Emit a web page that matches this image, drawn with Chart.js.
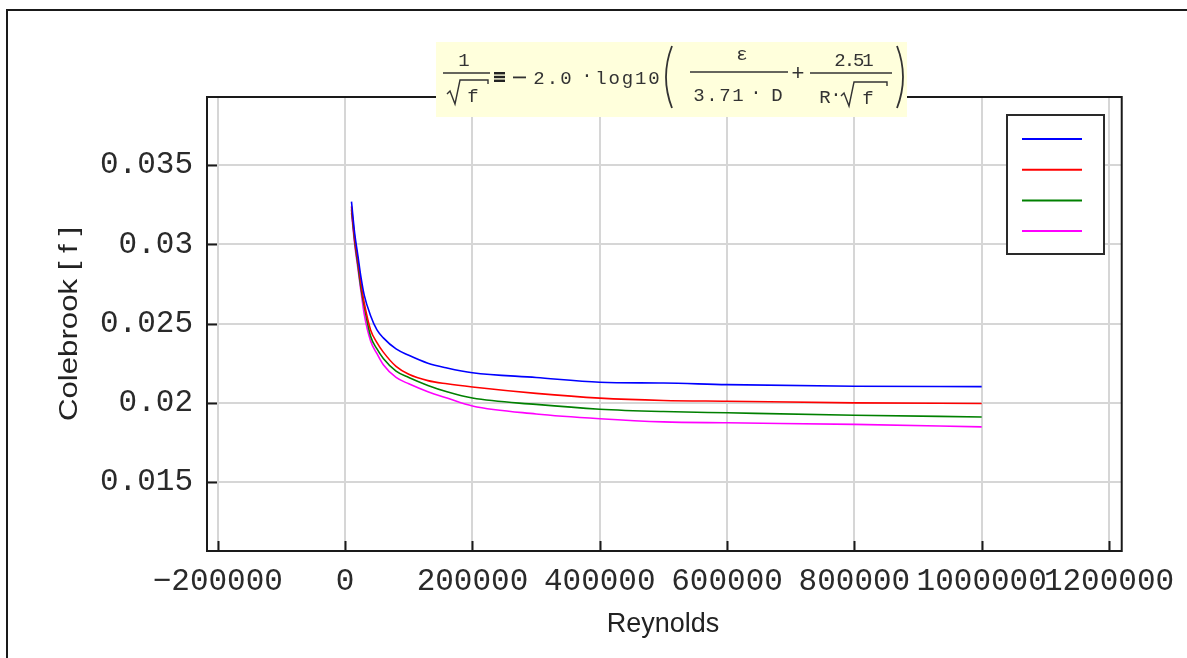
<!DOCTYPE html>
<html>
<head>
<meta charset="utf-8">
<script src="https://cdn.jsdelivr.net/npm/chart.js@4.4.1/dist/chart.umd.min.js"></script>
<style>
  html, body { margin: 0; padding: 0; background: #fff; }
  #wrap { width: 1187px; height: 658px; position: relative; }
</style>
</head>
<body>
<div id="wrap"><canvas id="chart"></canvas></div>
<script>
// ---- data ----
const reynolds = [10000, 15000, 20000, 25000, 30000, 40000, 50000, 60000, 80000, 100000, 130000, 160000, 200000, 300000, 400000, 500000, 600000, 800000, 1000000];
const fBlue    = [0.0327, 0.0307, 0.0293, 0.0279, 0.0268, 0.0255, 0.0246, 0.0241, 0.0234, 0.0230, 0.0225, 0.0222, 0.0219, 0.0216, 0.0213, 0.02125, 0.02115, 0.02105, 0.02102];
const fRed     = [0.0324, 0.0304, 0.0290, 0.0275, 0.0263, 0.0246, 0.0238, 0.0232, 0.0223, 0.0218, 0.0214, 0.0212, 0.0210, 0.0206, 0.0203, 0.02015, 0.0201, 0.0200, 0.01996];
const fGreen   = [0.0322, 0.0302, 0.0287, 0.0272, 0.0261, 0.0242, 0.0234, 0.0228, 0.0220, 0.0216, 0.0211, 0.0207, 0.0203, 0.0199, 0.0196, 0.01945, 0.01937, 0.01922, 0.01911];
const fMagenta = [0.0320, 0.0300, 0.0285, 0.0270, 0.0256, 0.0239, 0.0231, 0.0224, 0.0216, 0.0212, 0.0207, 0.0203, 0.0198, 0.0193, 0.0190, 0.0188, 0.01874, 0.01864, 0.01848];

const xTicks = [-200000, 0, 200000, 400000, 600000, 800000, 1000000, 1200000];
const xTickLabels = ["\u2212200000", "0", "200000", "400000", "600000", "800000", "1000000", "1200000"];
const yTicks = [0.015, 0.02, 0.025, 0.03, 0.035];
const yTickLabels = ["0.015", "0.02", "0.025", "0.03", "0.035"];

const seriesColors = ["#0000ff", "#ff0000", "#008000", "#ff00ff"];

function toPoints(ys) {
  return reynolds.map((r, i) => ({ x: r, y: ys[i] }));
}

// spread chars of a string evenly between x0 and x1 (mathcad style spacing)
function spread(ctx, text, x0, x1, y) {
  const n = text.length;
  const step = n > 1 ? (x1 - x0) / (n - 1) : 0;
  ctx.textAlign = "center";
  for (let i = 0; i < n; i++) ctx.fillText(text[i], x0 + i * step, y);
}

function sqrtSign(ctx, x, y0, x1) {
  ctx.beginPath();
  ctx.moveTo(x - 5, y0 + 14);
  ctx.lineTo(x - 2, y0 + 11);
  ctx.lineTo(x + 3, y0 + 24);
  ctx.lineTo(x + 8, y0);
  ctx.lineTo(x1, y0);
  ctx.lineTo(x1, y0 + 4);
  ctx.stroke();
}

const decorations = {
  id: "decorations",
  afterDraw(chart) {
    const ctx = chart.ctx;
    const a = chart.chartArea;
    const xs = chart.scales.x, ys = chart.scales.y;
    ctx.save();

    // plot frame
    ctx.strokeStyle = "#1a1a1a";
    ctx.lineWidth = 2;
    ctx.strokeRect(a.left, a.top, a.right - a.left, a.bottom - a.top);

    // inward tick marks
    ctx.beginPath();
    xTicks.forEach(v => {
      const px = Math.round(xs.getPixelForValue(v)) + 0.5;
      ctx.moveTo(px, a.bottom);
      ctx.lineTo(px, a.bottom - 10);
    });
    yTicks.forEach(v => {
      const py = Math.round(ys.getPixelForValue(v)) + 0.5;
      ctx.moveTo(a.left, py);
      ctx.lineTo(a.left + 10, py);
    });
    ctx.stroke();

    // legend box without text
    ctx.fillStyle = "#fff";
    ctx.fillRect(1007, 115, 97, 139);
    ctx.strokeStyle = "#2a2a2a";
    ctx.lineWidth = 2;
    ctx.strokeRect(1007, 115, 97, 139);
    chart.data.datasets.forEach((ds, i) => {
      const ly = 139 + i * 30.7;
      ctx.strokeStyle = ds.borderColor;
      ctx.lineWidth = 2;
      ctx.beginPath();
      ctx.moveTo(1022, ly);
      ctx.lineTo(1082, ly);
      ctx.stroke();
    });

    // equation box
    ctx.fillStyle = "#ffffdc";
    ctx.fillRect(436, 42, 471, 75);
    ctx.fillStyle = "#333";
    ctx.strokeStyle = "#333";
    ctx.lineWidth = 1.4;
    ctx.font = "19px 'Liberation Mono', monospace";
    ctx.textBaseline = "alphabetic";
    ctx.textAlign = "center";
    // 1 / sqrt(f)
    ctx.fillText("1", 464, 66);
    ctx.beginPath(); ctx.moveTo(443, 73); ctx.lineTo(490, 73); ctx.stroke();
    sqrtSign(ctx, 452, 80, 488);
    ctx.fillText("f", 473, 102);
    // identity sign
    ctx.fillStyle = "#222";
    ctx.fillRect(494, 72, 11, 2.4);
    ctx.fillRect(494, 75.8, 11, 2.4);
    ctx.fillRect(494, 79.6, 11, 2.4);
    ctx.fillStyle = "#333";
    ctx.fillRect(513, 76.5, 13, 1.8);
    spread(ctx, "2.0", 539, 566, 84);
    ctx.fillText("\u00b7", 587, 81);
    spread(ctx, "log10", 601, 654, 84);
    // big parens
    ctx.lineWidth = 1.8;
    ctx.beginPath();
    ctx.moveTo(672, 46); ctx.quadraticCurveTo(660, 77, 672, 108);
    ctx.moveTo(897, 46); ctx.quadraticCurveTo(909, 77, 897, 108);
    ctx.stroke();
    ctx.lineWidth = 1.4;
    // eps / (3.71 D)
    ctx.fillText("\u03b5", 742, 60);
    ctx.beginPath(); ctx.moveTo(690, 72); ctx.lineTo(788, 72); ctx.stroke();
    spread(ctx, "3.71", 699, 738, 101);
    ctx.fillText("\u00b7", 756, 98);
    ctx.fillText("D", 777, 101);
    // plus
    ctx.font = "22px 'Liberation Sans', sans-serif";
    ctx.fillText("+", 798, 80);
    ctx.font = "19px 'Liberation Mono', monospace";
    // 2.51 / (R sqrt f)
    spread(ctx, "2.51", 840, 868, 66);
    ctx.beginPath(); ctx.moveTo(810, 73); ctx.lineTo(892, 73); ctx.stroke();
    ctx.fillText("R", 825, 103);
    ctx.fillText("\u00b7", 836, 100);
    sqrtSign(ctx, 846, 82, 887);
    ctx.fillText("f", 868, 104);

    // axis titles
    ctx.fillStyle = "#222";
    ctx.font = "27px 'Liberation Sans', Arial, sans-serif";
    ctx.textAlign = "center";
    ctx.textBaseline = "alphabetic";
    ctx.fillText("Reynolds", 663, 632);
    ctx.save();
    ctx.translate(77, 324);
    ctx.rotate(-Math.PI / 2);
    ctx.scale(1.2, 1);
    ctx.font = "26px 'Liberation Sans', Arial, sans-serif";
    ctx.fillText("Colebrook [ f ]", 0, 0);
    ctx.restore();

    // outer frame
    ctx.strokeStyle = "#1a1a1a";
    ctx.lineWidth = 2;
    ctx.strokeRect(7, 10, 1200, 700);
    ctx.restore();
  }
};

new Chart(document.getElementById("chart"), {
  type: "scatter",
  data: {
    datasets: [
      { label: "blue", data: toPoints(fBlue), borderColor: seriesColors[0] },
      { label: "red", data: toPoints(fRed), borderColor: seriesColors[1] },
      { label: "green", data: toPoints(fGreen), borderColor: seriesColors[2] },
      { label: "magenta", data: toPoints(fMagenta), borderColor: seriesColors[3] }
    ].map(ds => Object.assign(ds, {
      showLine: true,
      pointRadius: 0,
      borderWidth: 1.6,
      cubicInterpolationMode: "monotone",
      fill: false
    }))
  },
  options: {
    responsive: true,
    maintainAspectRatio: false,
    animation: false,
    layout: { padding: { top: 97, right: 64, left: 0, bottom: 0 } },
    plugins: {
      legend: { display: false },
      tooltip: { enabled: false }
    },
    scales: {
      x: {
        type: "linear",
        min: -217000,
        max: 1220000,
        afterBuildTicks: s => { s.ticks = xTicks.map(v => ({ value: v })); },
        afterFit: s => { s.height = 107; },
        grid: { color: "#d6d6d6", lineWidth: 2, drawTicks: false },
        border: { display: false },
        ticks: {
          autoSkip: false,
          maxRotation: 0,
          minRotation: 0,
          padding: 12,
          color: "#2a2a2a",
          font: { family: "'Liberation Mono', monospace", size: 31 },
          callback: (v, i) => xTickLabels[i]
        }
      },
      y: {
        min: 0.01065,
        max: 0.0393,
        afterBuildTicks: s => { s.ticks = yTicks.map(v => ({ value: v })); },
        afterFit: s => { s.width = 207; },
        grid: { color: "#d6d6d6", lineWidth: 2, drawTicks: false },
        border: { display: false },
        ticks: {
          autoSkip: false,
          padding: 14,
          color: "#2a2a2a",
          font: { family: "'Liberation Mono', monospace", size: 31 },
          callback: (v, i) => yTickLabels[i]
        }
      }
    }
  },
  plugins: [decorations]
});
</script>
</body>
</html>
